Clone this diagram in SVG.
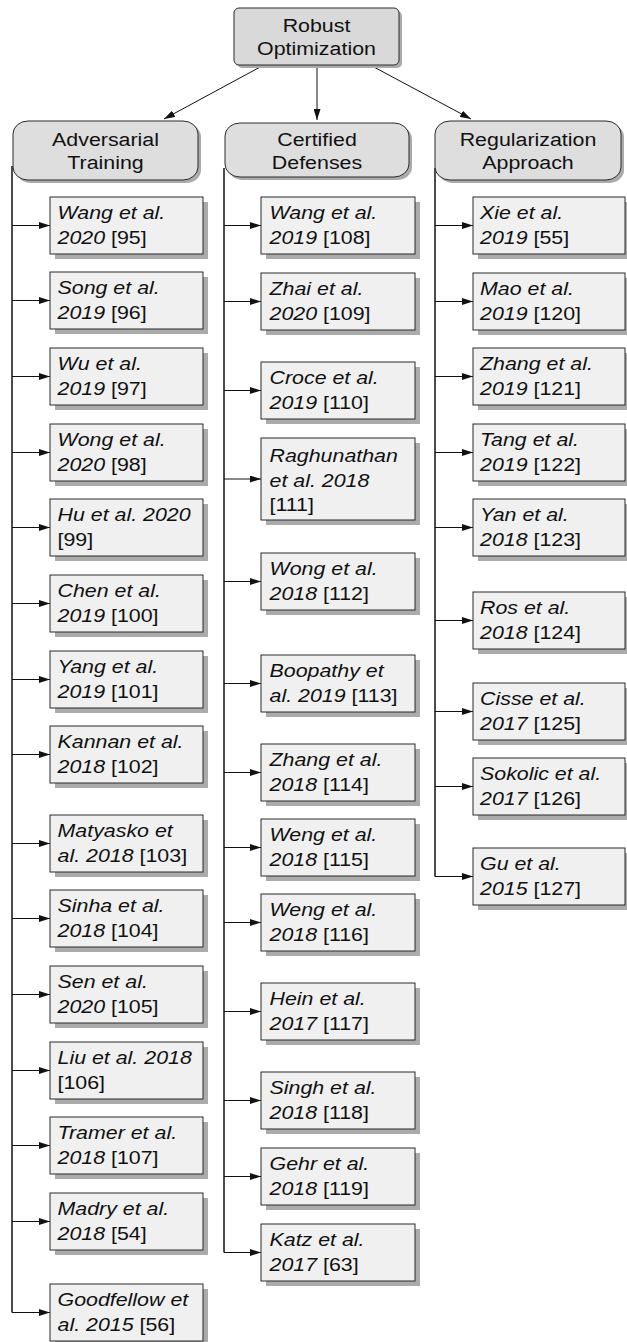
<svg xmlns="http://www.w3.org/2000/svg" width="627" height="1342" viewBox="0 0 627 1342">
<style>
.box{fill:#f0f0f0;stroke:#2b2b2b;stroke-width:1}
.sh{fill:#ababab}
.cat{fill:#dedede;stroke:#2b2b2b;stroke-width:1}
.root{fill:#d9d9d9;stroke:#2b2b2b;stroke-width:1}
.t{font-family:"Liberation Sans",Arial,sans-serif;font-size:18.6px;fill:#111}
.i{font-style:italic}
.c{text-anchor:middle}
.trunk{fill:none;stroke:#111;stroke-width:1.5}
.br{fill:none;stroke:#111;stroke-width:1;marker-end:url(#ah)}
</style>
<defs>
<marker id="ah" markerWidth="11" markerHeight="7" refX="11" refY="3.5" orient="auto" markerUnits="userSpaceOnUse"><path d="M0,0 L11,3.5 L0,7 z" fill="#111"/></marker>
</defs>
<rect width="627" height="1342" fill="#fff"/>

<g id="connectors">
<path class="br" d="M262,66 L164,119"/>
<path class="br" d="M317,66 L317,120"/>
<path class="br" d="M372,66 L471,119"/>
<path class="trunk" d="M12,166 V1312.5"/>
<path class="trunk" d="M224,168 V1252.5"/>
<path class="trunk" d="M435,168 V876.5"/>
<path class="br" d="M12,225.5 H50"/>
<path class="br" d="M12,300.5 H50"/>
<path class="br" d="M12,376.5 H50"/>
<path class="br" d="M12,452.5 H50"/>
<path class="br" d="M12,527.5 H50"/>
<path class="br" d="M12,603.5 H50"/>
<path class="br" d="M12,679.5 H50"/>
<path class="br" d="M12,754.5 H50"/>
<path class="br" d="M12,843.5 H50"/>
<path class="br" d="M12,918.5 H50"/>
<path class="br" d="M12,994.5 H50"/>
<path class="br" d="M12,1070.5 H50"/>
<path class="br" d="M12,1145.5 H50"/>
<path class="br" d="M12,1221.5 H50"/>
<path class="br" d="M12,1312.5 H50"/>
<path class="br" d="M224,225.5 H261"/>
<path class="br" d="M224,301.5 H261"/>
<path class="br" d="M224,390.5 H261"/>
<path class="br" d="M224,479 H261"/>
<path class="br" d="M224,581.5 H261"/>
<path class="br" d="M224,683.5 H261"/>
<path class="br" d="M224,772.5 H261"/>
<path class="br" d="M224,847.5 H261"/>
<path class="br" d="M224,922.5 H261"/>
<path class="br" d="M224,1011.5 H261"/>
<path class="br" d="M224,1100.5 H261"/>
<path class="br" d="M224,1176.5 H261"/>
<path class="br" d="M224,1252.5 H261"/>
<path class="br" d="M435,225.5 H473"/>
<path class="br" d="M435,301.5 H473"/>
<path class="br" d="M435,376.5 H473"/>
<path class="br" d="M435,452.5 H473"/>
<path class="br" d="M435,527.5 H473"/>
<path class="br" d="M435,620.5 H473"/>
<path class="br" d="M435,711.5 H473"/>
<path class="br" d="M435,786.5 H473"/>
<path class="br" d="M435,876.5 H473"/>
</g>

<g id="root">
<rect class="sh" x="237" y="11" width="165" height="57" rx="5"/>
<rect class="root" x="234" y="8" width="165" height="57" rx="5"/>
<text class="t c" transform="translate(316.5,31.5) scale(1.15,1)"><tspan x="0">Robust</tspan><tspan x="0" dy="24">Optimization</tspan></text>
</g>

<g id="cat_adv">
<rect class="sh" x="16" y="124" width="185" height="59" rx="15" ry="13"/>
<rect class="cat" x="13" y="121" width="185" height="59" rx="15" ry="13"/>
<text class="t c" transform="translate(105.5,145.5) scale(1.15,1)"><tspan x="0">Adversarial</tspan><tspan x="0" dy="24">Training</tspan></text>
</g>
<g id="cat_cert">
<rect class="sh" x="228" y="126" width="184" height="54" rx="15" ry="13"/>
<rect class="cat" x="225" y="123" width="184" height="54" rx="15" ry="13"/>
<text class="t c" transform="translate(317,145.5) scale(1.15,1)"><tspan x="0">Certified</tspan><tspan x="0" dy="24">Defenses</tspan></text>
</g>
<g id="cat_reg">
<rect class="sh" x="438" y="124" width="186" height="59" rx="15" ry="13"/>
<rect class="cat" x="435" y="121" width="186" height="59" rx="15" ry="13"/>
<text class="t c" transform="translate(528,145.5) scale(1.15,1)"><tspan x="0">Regularization</tspan><tspan x="0" dy="24">Approach</tspan></text>
</g>

<!-- Column 1 -->
<g id="n95"><rect class="sh" x="55" y="202" width="153" height="57"/><rect class="box" x="50" y="197" width="153" height="57"/>
<text class="t" transform="translate(57.5,219.3) scale(1.15,1)"><tspan x="0" class="i">Wang et al.</tspan><tspan x="0" dy="24.4"><tspan class="i">2020</tspan> [95]</tspan></text></g>
<g id="n96"><rect class="sh" x="55" y="277" width="153" height="57"/><rect class="box" x="50" y="272" width="153" height="57"/>
<text class="t" transform="translate(57.5,294.3) scale(1.15,1)"><tspan x="0" class="i">Song et al.</tspan><tspan x="0" dy="24.4"><tspan class="i">2019</tspan> [96]</tspan></text></g>
<g id="n97"><rect class="sh" x="55" y="353" width="153" height="57"/><rect class="box" x="50" y="348" width="153" height="57"/>
<text class="t" transform="translate(57.5,370.3) scale(1.15,1)"><tspan x="0" class="i">Wu et al.</tspan><tspan x="0" dy="24.4"><tspan class="i">2019</tspan> [97]</tspan></text></g>
<g id="n98"><rect class="sh" x="55" y="429" width="153" height="57"/><rect class="box" x="50" y="424" width="153" height="57"/>
<text class="t" transform="translate(57.5,446.3) scale(1.15,1)"><tspan x="0" class="i">Wong et al.</tspan><tspan x="0" dy="24.4"><tspan class="i">2020</tspan> [98]</tspan></text></g>
<g id="n99"><rect class="sh" x="55" y="504" width="153" height="57"/><rect class="box" x="50" y="499" width="153" height="57"/>
<text class="t" transform="translate(57.5,521.3) scale(1.15,1)"><tspan x="0" class="i">Hu et al. 2020</tspan><tspan x="0" dy="24.4">[99]</tspan></text></g>
<g id="n100"><rect class="sh" x="55" y="580" width="153" height="57"/><rect class="box" x="50" y="575" width="153" height="57"/>
<text class="t" transform="translate(57.5,597.3) scale(1.15,1)"><tspan x="0" class="i">Chen et al.</tspan><tspan x="0" dy="24.4"><tspan class="i">2019</tspan> [100]</tspan></text></g>
<g id="n101"><rect class="sh" x="55" y="656" width="153" height="57"/><rect class="box" x="50" y="651" width="153" height="57"/>
<text class="t" transform="translate(57.5,673.3) scale(1.15,1)"><tspan x="0" class="i">Yang et al.</tspan><tspan x="0" dy="24.4"><tspan class="i">2019</tspan> [101]</tspan></text></g>
<g id="n102"><rect class="sh" x="55" y="731" width="153" height="57"/><rect class="box" x="50" y="726" width="153" height="57"/>
<text class="t" transform="translate(57.5,748.3) scale(1.15,1)"><tspan x="0" class="i">Kannan et al.</tspan><tspan x="0" dy="24.4"><tspan class="i">2018</tspan> [102]</tspan></text></g>
<g id="n103"><rect class="sh" x="55" y="820" width="153" height="57"/><rect class="box" x="50" y="815" width="153" height="57"/>
<text class="t" transform="translate(57.5,837.3) scale(1.15,1)"><tspan x="0" class="i">Matyasko et</tspan><tspan x="0" dy="24.4"><tspan class="i">al. 2018</tspan> [103]</tspan></text></g>
<g id="n104"><rect class="sh" x="55" y="895" width="153" height="57"/><rect class="box" x="50" y="890" width="153" height="57"/>
<text class="t" transform="translate(57.5,912.3) scale(1.15,1)"><tspan x="0" class="i">Sinha et al.</tspan><tspan x="0" dy="24.4"><tspan class="i">2018</tspan> [104]</tspan></text></g>
<g id="n105"><rect class="sh" x="55" y="971" width="153" height="57"/><rect class="box" x="50" y="966" width="153" height="57"/>
<text class="t" transform="translate(57.5,988.3) scale(1.15,1)"><tspan x="0" class="i">Sen et al.</tspan><tspan x="0" dy="24.4"><tspan class="i">2020</tspan> [105]</tspan></text></g>
<g id="n106"><rect class="sh" x="55" y="1047" width="153" height="57"/><rect class="box" x="50" y="1042" width="153" height="57"/>
<text class="t" transform="translate(57.5,1064.3) scale(1.15,1)"><tspan x="0" class="i">Liu et al. 2018</tspan><tspan x="0" dy="24.4">[106]</tspan></text></g>
<g id="n107"><rect class="sh" x="55" y="1122" width="153" height="57"/><rect class="box" x="50" y="1117" width="153" height="57"/>
<text class="t" transform="translate(57.5,1139.3) scale(1.15,1)"><tspan x="0" class="i">Tramer et al.</tspan><tspan x="0" dy="24.4"><tspan class="i">2018</tspan> [107]</tspan></text></g>
<g id="n54"><rect class="sh" x="55" y="1198" width="153" height="57"/><rect class="box" x="50" y="1193" width="153" height="57"/>
<text class="t" transform="translate(57.5,1215.3) scale(1.15,1)"><tspan x="0" class="i">Madry et al.</tspan><tspan x="0" dy="24.4"><tspan class="i">2018</tspan> [54]</tspan></text></g>
<g id="n56"><rect class="sh" x="55" y="1289" width="153" height="57"/><rect class="box" x="50" y="1284" width="153" height="57"/>
<text class="t" transform="translate(57.5,1306.3) scale(1.15,1)"><tspan x="0" class="i">Goodfellow et</tspan><tspan x="0" dy="24.4"><tspan class="i">al. 2015</tspan> [56]</tspan></text></g>

<!-- Column 2 -->
<g id="n108"><rect class="sh" x="266" y="202" width="154" height="57"/><rect class="box" x="261" y="197" width="154" height="57"/>
<text class="t" transform="translate(269.5,219.3) scale(1.15,1)"><tspan x="0" class="i">Wang et al.</tspan><tspan x="0" dy="24.4"><tspan class="i">2019</tspan> [108]</tspan></text></g>
<g id="n109"><rect class="sh" x="266" y="278" width="154" height="57"/><rect class="box" x="261" y="273" width="154" height="57"/>
<text class="t" transform="translate(269.5,295.3) scale(1.15,1)"><tspan x="0" class="i">Zhai et al.</tspan><tspan x="0" dy="24.4"><tspan class="i">2020</tspan> [109]</tspan></text></g>
<g id="n110"><rect class="sh" x="266" y="367" width="154" height="57"/><rect class="box" x="261" y="362" width="154" height="57"/>
<text class="t" transform="translate(269.5,384.3) scale(1.15,1)"><tspan x="0" class="i">Croce et al.</tspan><tspan x="0" dy="24.4"><tspan class="i">2019</tspan> [110]</tspan></text></g>
<g id="n111"><rect class="sh" x="266" y="443" width="154" height="82"/><rect class="box" x="261" y="438" width="154" height="82"/>
<text class="t" transform="translate(269.5,462.3) scale(1.15,1)"><tspan x="0" class="i">Raghunathan</tspan><tspan x="0" dy="24.4" class="i">et al. 2018</tspan><tspan x="0" dy="24.4">[111]</tspan></text></g>
<g id="n112"><rect class="sh" x="266" y="558" width="154" height="57"/><rect class="box" x="261" y="553" width="154" height="57"/>
<text class="t" transform="translate(269.5,575.3) scale(1.15,1)"><tspan x="0" class="i">Wong et al.</tspan><tspan x="0" dy="24.4"><tspan class="i">2018</tspan> [112]</tspan></text></g>
<g id="n113"><rect class="sh" x="266" y="660" width="154" height="57"/><rect class="box" x="261" y="655" width="154" height="57"/>
<text class="t" transform="translate(269.5,677.3) scale(1.15,1)"><tspan x="0" class="i">Boopathy et</tspan><tspan x="0" dy="24.4"><tspan class="i">al. 2019</tspan> [113]</tspan></text></g>
<g id="n114"><rect class="sh" x="266" y="749" width="154" height="57"/><rect class="box" x="261" y="744" width="154" height="57"/>
<text class="t" transform="translate(269.5,766.3) scale(1.15,1)"><tspan x="0" class="i">Zhang et al.</tspan><tspan x="0" dy="24.4"><tspan class="i">2018</tspan> [114]</tspan></text></g>
<g id="n115"><rect class="sh" x="266" y="824" width="154" height="57"/><rect class="box" x="261" y="819" width="154" height="57"/>
<text class="t" transform="translate(269.5,841.3) scale(1.15,1)"><tspan x="0" class="i">Weng et al.</tspan><tspan x="0" dy="24.4"><tspan class="i">2018</tspan> [115]</tspan></text></g>
<g id="n116"><rect class="sh" x="266" y="899" width="154" height="57"/><rect class="box" x="261" y="894" width="154" height="57"/>
<text class="t" transform="translate(269.5,916.3) scale(1.15,1)"><tspan x="0" class="i">Weng et al.</tspan><tspan x="0" dy="24.4"><tspan class="i">2018</tspan> [116]</tspan></text></g>
<g id="n117"><rect class="sh" x="266" y="988" width="154" height="57"/><rect class="box" x="261" y="983" width="154" height="57"/>
<text class="t" transform="translate(269.5,1005.3) scale(1.15,1)"><tspan x="0" class="i">Hein et al.</tspan><tspan x="0" dy="24.4"><tspan class="i">2017</tspan> [117]</tspan></text></g>
<g id="n118"><rect class="sh" x="266" y="1077" width="154" height="57"/><rect class="box" x="261" y="1072" width="154" height="57"/>
<text class="t" transform="translate(269.5,1094.3) scale(1.15,1)"><tspan x="0" class="i">Singh et al.</tspan><tspan x="0" dy="24.4"><tspan class="i">2018</tspan> [118]</tspan></text></g>
<g id="n119"><rect class="sh" x="266" y="1153" width="154" height="57"/><rect class="box" x="261" y="1148" width="154" height="57"/>
<text class="t" transform="translate(269.5,1170.3) scale(1.15,1)"><tspan x="0" class="i">Gehr et al.</tspan><tspan x="0" dy="24.4"><tspan class="i">2018</tspan> [119]</tspan></text></g>
<g id="n63"><rect class="sh" x="266" y="1229" width="154" height="57"/><rect class="box" x="261" y="1224" width="154" height="57"/>
<text class="t" transform="translate(269.5,1246.3) scale(1.15,1)"><tspan x="0" class="i">Katz et al.</tspan><tspan x="0" dy="24.4"><tspan class="i">2017</tspan> [63]</tspan></text></g>

<!-- Column 3 -->
<g id="n55"><rect class="sh" x="478" y="202" width="152" height="57"/><rect class="box" x="473" y="197" width="152" height="57"/>
<text class="t" transform="translate(480,219.3) scale(1.15,1)"><tspan x="0" class="i">Xie et al.</tspan><tspan x="0" dy="24.4"><tspan class="i">2019</tspan> [55]</tspan></text></g>
<g id="n120"><rect class="sh" x="478" y="278" width="152" height="57"/><rect class="box" x="473" y="273" width="152" height="57"/>
<text class="t" transform="translate(480,295.3) scale(1.15,1)"><tspan x="0" class="i">Mao et al.</tspan><tspan x="0" dy="24.4"><tspan class="i">2019</tspan> [120]</tspan></text></g>
<g id="n121"><rect class="sh" x="478" y="353" width="152" height="57"/><rect class="box" x="473" y="348" width="152" height="57"/>
<text class="t" transform="translate(480,370.3) scale(1.15,1)"><tspan x="0" class="i">Zhang et al.</tspan><tspan x="0" dy="24.4"><tspan class="i">2019</tspan> [121]</tspan></text></g>
<g id="n122"><rect class="sh" x="478" y="429" width="152" height="57"/><rect class="box" x="473" y="424" width="152" height="57"/>
<text class="t" transform="translate(480,446.3) scale(1.15,1)"><tspan x="0" class="i">Tang et al.</tspan><tspan x="0" dy="24.4"><tspan class="i">2019</tspan> [122]</tspan></text></g>
<g id="n123"><rect class="sh" x="478" y="504" width="152" height="57"/><rect class="box" x="473" y="499" width="152" height="57"/>
<text class="t" transform="translate(480,521.3) scale(1.15,1)"><tspan x="0" class="i">Yan et al.</tspan><tspan x="0" dy="24.4"><tspan class="i">2018</tspan> [123]</tspan></text></g>
<g id="n124"><rect class="sh" x="478" y="597" width="152" height="57"/><rect class="box" x="473" y="592" width="152" height="57"/>
<text class="t" transform="translate(480,614.3) scale(1.15,1)"><tspan x="0" class="i">Ros et al.</tspan><tspan x="0" dy="24.4"><tspan class="i">2018</tspan> [124]</tspan></text></g>
<g id="n125"><rect class="sh" x="478" y="688" width="152" height="57"/><rect class="box" x="473" y="683" width="152" height="57"/>
<text class="t" transform="translate(480,705.3) scale(1.15,1)"><tspan x="0" class="i">Cisse et al.</tspan><tspan x="0" dy="24.4"><tspan class="i">2017</tspan> [125]</tspan></text></g>
<g id="n126"><rect class="sh" x="478" y="763" width="152" height="57"/><rect class="box" x="473" y="758" width="152" height="57"/>
<text class="t" transform="translate(480,780.3) scale(1.15,1)"><tspan x="0" class="i">Sokolic et al.</tspan><tspan x="0" dy="24.4"><tspan class="i">2017</tspan> [126]</tspan></text></g>
<g id="n127"><rect class="sh" x="478" y="853" width="152" height="57"/><rect class="box" x="473" y="848" width="152" height="57"/>
<text class="t" transform="translate(480,870.3) scale(1.15,1)"><tspan x="0" class="i">Gu et al.</tspan><tspan x="0" dy="24.4"><tspan class="i">2015</tspan> [127]</tspan></text></g>
</svg>
